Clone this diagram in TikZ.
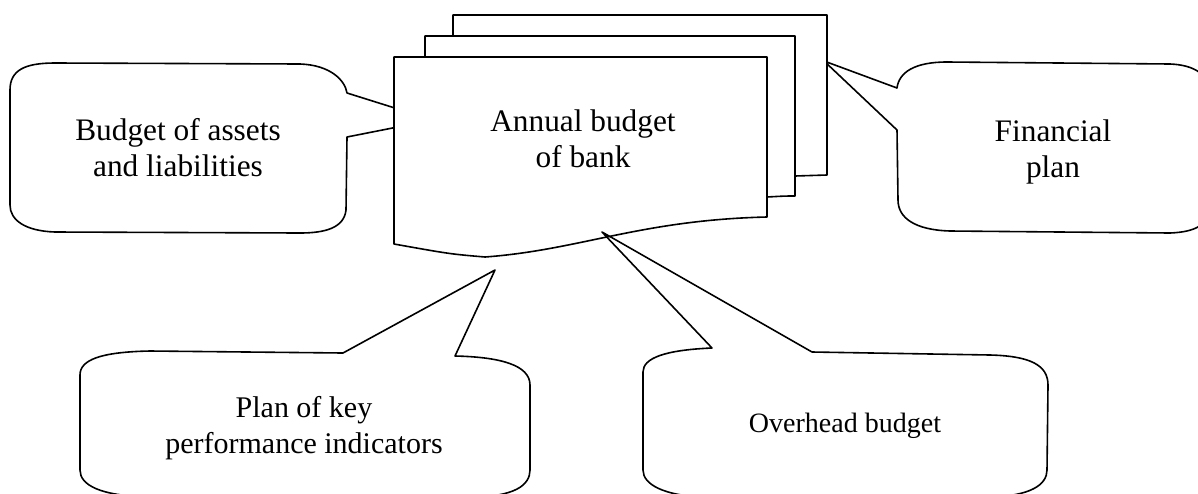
\documentclass[tikz,border=0pt]{standalone}
\usepackage{fontspec}
\setmainfont{Liberation Serif}

\begin{document}
\begin{tikzpicture}[x=0.75pt,y=-0.75pt,line width=1.2pt,line join=round,
		lbl/.style={align=center,font=\fontsize{23.5}{27}\selectfont}]
		\useasboundingbox (0,0) rectangle (1198,493);
		\clip (0,0) rectangle (1198,493);
		% callouts behind the sheets
		\draw (10,90) .. controls (10,70) and (25,63) .. (55,63) -- (300,64) .. controls (330,65) and (345,80) .. (347,93) -- (433,120) -- (347,137) -- (346,210) .. controls (344,228) and (325,233) .. (300,233) -- (55,232) .. controls (25,231) and (10,220) .. (10,205) -- cycle;
		\draw (897,88) .. controls (899,72) and (915,62) .. (947,62) -- (1170,64) .. controls (1195,65) and (1210,75) .. (1210,95) -- (1210,205) .. controls (1210,225) and (1195,232) .. (1170,233) -- (950,231) .. controls (915,230) and (898,218) .. (898,200) -- (897,130) -- (824,61) -- cycle;
		% three sheets
		\draw[fill=white] (453,15) -- (827,15) -- (827,175) -- (795,176) -- (453,176) -- cycle;
		\draw[fill=white] (425,36) -- (795,36) -- (795,196) .. controls (785,196) .. (767,197) -- (425,197) -- cycle;
		\draw[fill=white] (394,57) -- (767,57) -- (767,217) .. controls (640,220) and (580,250) .. (485,257) .. controls (450,254) .. (394,244) -- cycle;
		% callouts in front
		\draw (343,353) -- (150,351) .. controls (100,352) and (80,360) .. (80,375) -- (80,470) .. controls (80,485) and (100,496) .. (150,497) -- (470,497) .. controls (515,497) and (530,485) .. (530,470) -- (530,385) .. controls (530,365) and (500,357) .. (455,356) -- (495,270) -- cycle;
		\draw (712,348) .. controls (665,350) and (643,358) .. (643,372) -- (643,470) .. controls (643,485) and (665,495) .. (700,497) -- (990,497) .. controls (1030,496) and (1047,485) .. (1047,470) -- (1048,385) .. controls (1048,365) and (1030,356) .. (990,355) -- (812,352) -- (602,232) -- cycle;
		\node[lbl] (annual) at (583,139) {Annual budget\\of bank};
		\node[lbl] (assets) at (178,148) {Budget of assets\\and liabilities};
		\node[lbl] (fin) at (1053,152) {Financial\\plan};
		\node[lbl,font=\fontsize{22.5}{27}\selectfont] (kpi) at (304,428) {Plan of key\\performance indicators};
		\node[lbl,font=\fontsize{21}{27}\selectfont] (overhead) at (845,426) {Overhead budget};
	\end{tikzpicture}
\end{document}
